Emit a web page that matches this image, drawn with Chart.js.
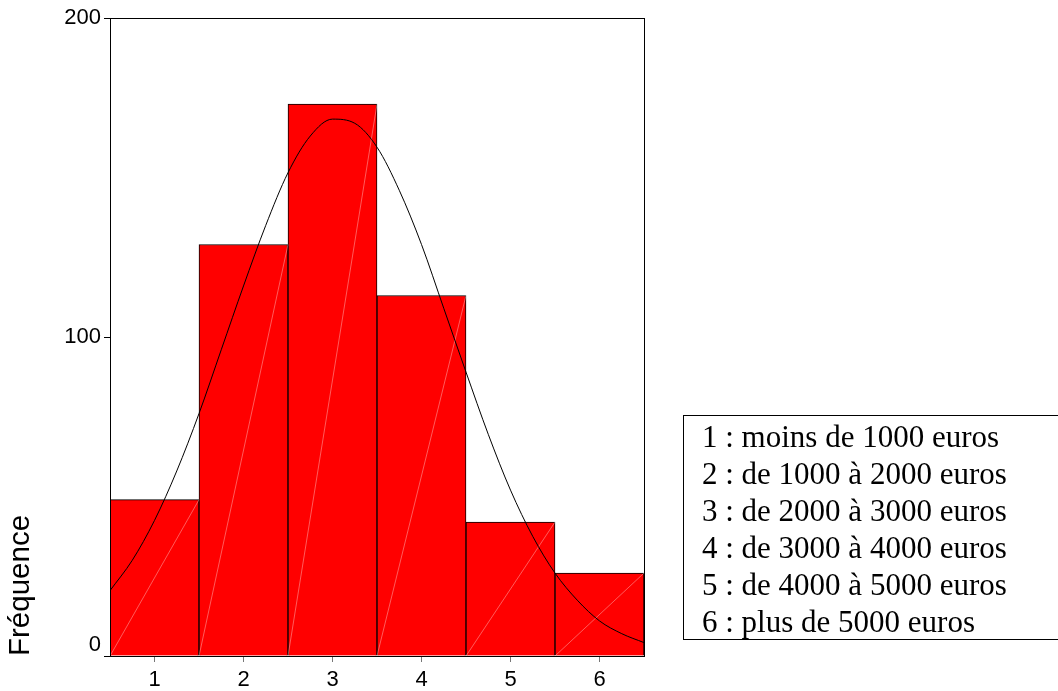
<!DOCTYPE html>
<html>
<head>
<meta charset="utf-8">
<script src="https://cdn.jsdelivr.net/npm/chart.js@4/dist/chart.umd.min.js"></script>
<style>
  html, body { margin: 0; padding: 0; background: #fff; overflow: hidden; }
  #wrap { position: relative; width: 1058px; height: 691px; }
  #legendBox {
    position: absolute; left: 683px; top: 415px; width: 420px; height: 225px;
    border: 1.5px solid #000; box-sizing: border-box;
    font-family: "Liberation Serif", "Times New Roman", serif; font-size: 31px;
    line-height: 37px; padding: 2px 0 0 18px; color: #000;
  }
</style>
</head>
<body>
<div id="wrap">
  <canvas id="chart" width="1058" height="691"></canvas>
  <div id="legendBox"></div>
</div>
<script>
const categories = ['1', '2', '3', '4', '5', '6']
const frequencies = [49, 129, 173, 113, 42, 26]
const yTicks = [0, 100, 200]
const legendLines = [
  '1 : moins de 1000 euros',
  '2 : de 1000 à 2000 euros',
  '3 : de 2000 à 3000 euros',
  '4 : de 3000 à 4000 euros',
  '5 : de 4000 à 5000 euros',
  '6 : plus de 5000 euros'
]
// normal curve
const curveX = [0.5, 0.75, 1, 1.25, 1.5, 1.75, 2, 2.25, 2.5, 2.75, 3, 3.25, 3.5,
  3.75, 4, 4.25, 4.5, 4.75, 5, 5.25, 5.5, 5.75, 6, 6.25, 6.5]
const curveY = [20.5, 30, 42.5, 58, 76, 96, 116, 135, 151.5, 163, 168.3, 167, 159.5,
  146, 129, 109, 89, 69.5, 52, 37.5, 26, 17.5, 11, 7, 4.2]

document.getElementById('legendBox').innerHTML = legendLines.map(l => '<div>' + l + '</div>').join('')

const frame = {
  id: 'frame',
  afterDatasetDraw(chart, args) {
    if (args.meta.type !== 'bar') return
    const ctx = chart.ctx
    const base = chart.scales.y.getPixelForValue(0)
    ctx.save()
    ctx.strokeStyle = 'rgba(255,255,255,0.45)'
    ctx.lineWidth = 0.8
    args.meta.data.forEach(bar => {
      const p = bar.getProps(['x', 'y', 'width'], true)
      ctx.beginPath()
      ctx.moveTo(p.x - p.width / 2, base)
      ctx.lineTo(p.x + p.width / 2, p.y)
      ctx.stroke()
    })
    ctx.restore()
  },
  afterDraw(chart) {
    const a = chart.chartArea
    const ctx = chart.ctx
    ctx.save()
    ctx.strokeStyle = '#000'
    ctx.lineWidth = 1
    ctx.strokeRect(a.left + 0.5, a.top + 0.5, a.right - a.left, a.bottom - a.top)
    ctx.restore()
  }
}

new Chart(document.getElementById('chart'), {
  data: {
    labels: categories,
    datasets: [
      {
        type: 'line',
        data: curveX.map((x, i) => ({ x: x, y: curveY[i] })),
        xAxisID: 'x2',
        borderColor: '#000',
        borderWidth: 1,
        pointRadius: 0,
        cubicInterpolationMode: 'monotone',
        order: 0
      },
      {
        type: 'bar',
        data: frequencies,
        xAxisID: 'x',
        grouped: false,
        backgroundColor: '#ff0000',
        borderColor: '#000',
        borderWidth: 1,
        barPercentage: 1,
        categoryPercentage: 1,
        order: 1
      }
    ]
  },
  plugins: [frame],
  options: {
    responsive: false,
    animation: false,
    events: [],
    layout: { padding: { left: 0, right: 414, top: 18, bottom: 0 } },
    plugins: { legend: { display: false }, tooltip: { enabled: false } },
    scales: {
      x: {
        type: 'category',
        offset: true,
        afterFit: (s) => { s.height = 35 },
        grid: { offset: false, drawOnChartArea: false, drawTicks: true, tickLength: 6, color: '#777' },
        border: { color: '#000' },
        ticks: { color: '#000', padding: 5, font: { family: 'Liberation Sans, Arial', size: 22 } }
      },
      x2: {
        type: 'linear',
        min: 0.5,
        max: 6.5,
        display: false
      },
      y: {
        min: 0,
        max: 200,
        afterFit: (s) => { s.width = 110 },
        afterBuildTicks: (s) => { s.ticks = yTicks.map(v => ({ value: v })) },
        grid: { drawOnChartArea: false, drawTicks: true, tickLength: 6, color: '#000' },
        border: { color: '#000' },
        ticks: {
          color: '#000',
          padding: 3,
          font: { family: 'Liberation Sans, Arial', size: 22, lineHeight: 1 },
          // lift the bottom label off the x axis as in the original
          callback: (v) => v === 0 ? ['0', ''] : String(v)
        },
        title: {
          display: true,
          text: 'Fréquence',
          align: 'start',
          color: '#000',
          padding: { top: 3, bottom: 0 },
          font: { family: 'Liberation Sans, Arial', size: 29.5 }
        }
      }
    }
  }
})
</script>
</body>
</html>
